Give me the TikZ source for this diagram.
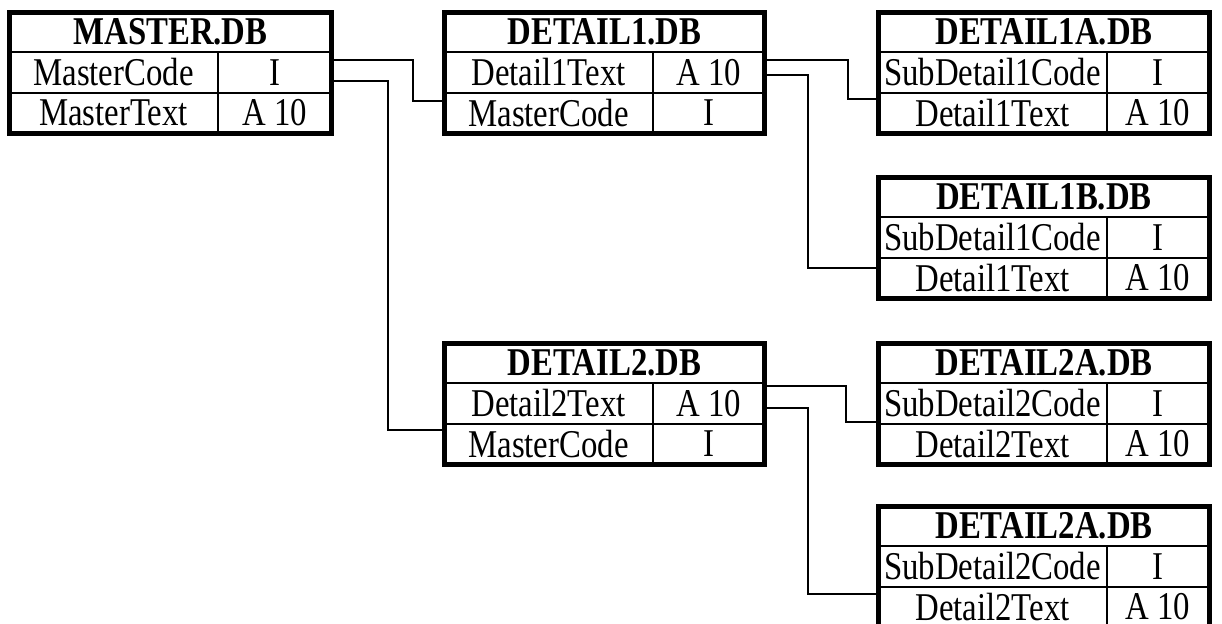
\documentclass[tikz,border=0pt]{standalone}
\usepackage{fontspec}
\setmainfont{Liberation Serif}
\usepackage{graphicx}
\usetikzlibrary{positioning}

\newcommand{\tallfont}[1]{\scalebox{1}[1.2]{#1}}
% name, top left, left width, right width, title, row texts
\newcommand{\dbtable}[9]{%
    \node[headcell, minimum width=#3+#4, anchor=north west] (#1-h) at (#2) {\tallfont{\bfseries #5}};
    \node[fieldcell, minimum width=#3, below right=0pt and 0pt of #1-h.south west] (#1-r1l) {\tallfont{#6}};
    \node[fieldcell, minimum width=#4, right=0pt of #1-r1l] (#1-r1r) {\tallfont{#7}};
    \node[fieldcell, minimum width=#3, below=0pt of #1-r1l] (#1-r2l) {\tallfont{#8}};
    \node[fieldcell, minimum width=#4, right=0pt of #1-r2l] (#1-r2r) {\tallfont{#9}};
    \draw[tableborder] (#1-h.north west) rectangle (#1-r2r.south east);
}

\begin{document}
\begin{tikzpicture}[x=0.5pt, y=-0.5pt,
        headcell/.style={draw, line width=1pt, inner sep=0pt, outer sep=0pt,
            minimum height=20pt, font=\fontsize{16.4}{19}\selectfont},
        fieldcell/.style={draw, line width=1pt, inner sep=0pt, outer sep=0pt,
            minimum height=20.25pt, font=\fontsize{16.4}{19}\selectfont},
        tableborder/.style={line width=2.5pt},
        link/.style={line width=1pt}]
    \useasboundingbox (0, 0) rectangle (1222, 623);

    \dbtable{mst}{9.5, 12}{104pt}{57pt}{MASTER.DB}{MasterCode}{I}{MasterText}{A 10}
    \dbtable{dtl1}{444.5, 12}{104pt}{56pt}{DETAIL1.DB}{Detail1Text}{A 10}{MasterCode}{I}
    \dbtable{dtl1a}{878.5, 12}{114pt}{51.5pt}{DETAIL1A.DB}{SubDetail1Code}{I}{Detail1Text}{A 10}
    \dbtable{dtl1b}{878.5, 177}{114pt}{51.5pt}{DETAIL1B.DB}{SubDetail1Code}{I}{Detail1Text}{A 10}
    \dbtable{dtl2}{444.5, 343}{104pt}{56pt}{DETAIL2.DB}{Detail2Text}{A 10}{MasterCode}{I}
    \dbtable{dtl2a}{878.5, 343}{114pt}{51.5pt}{DETAIL2A.DB}{SubDetail2Code}{I}{Detail2Text}{A 10}
    \dbtable{dtl2b}{878.5, 506}{114pt}{51.5pt}{DETAIL2A.DB}{SubDetail2Code}{I}{Detail2Text}{A 10}

    % master links
    \draw[link] ([yshift=6.25pt]mst-r1r.east) -- ++(81.5, 0) |- ([yshift=6pt]dtl1-r2l.west);
    \draw[link] ([yshift=-4.25pt]mst-r1r.east) -- ++(56.5, 0) |- ([yshift=6.75pt]dtl2-r2l.west);

    % detail1 links
    \draw[link] ([yshift=6.25pt]dtl1-r1r.east) -- ++(83.5, 0) |- ([yshift=7pt]dtl1a-r2l.west);
    \draw[link] ([yshift=-1.25pt]dtl1-r1r.east) -- ++(43.5, 0) |- ([yshift=4.75pt]dtl1b-r2l.west);

    % detail2 links
    \draw[link] ([yshift=8.75pt]dtl2-r1r.east) -- ++(81.5, 0) |- ([yshift=11pt]dtl2a-r2l.west);
    \draw[link] ([yshift=-2.25pt]dtl2-r1r.east) -- ++(43.5, 0) |- ([yshift=6.25pt]dtl2b-r2l.west);
\end{tikzpicture}
\end{document}
